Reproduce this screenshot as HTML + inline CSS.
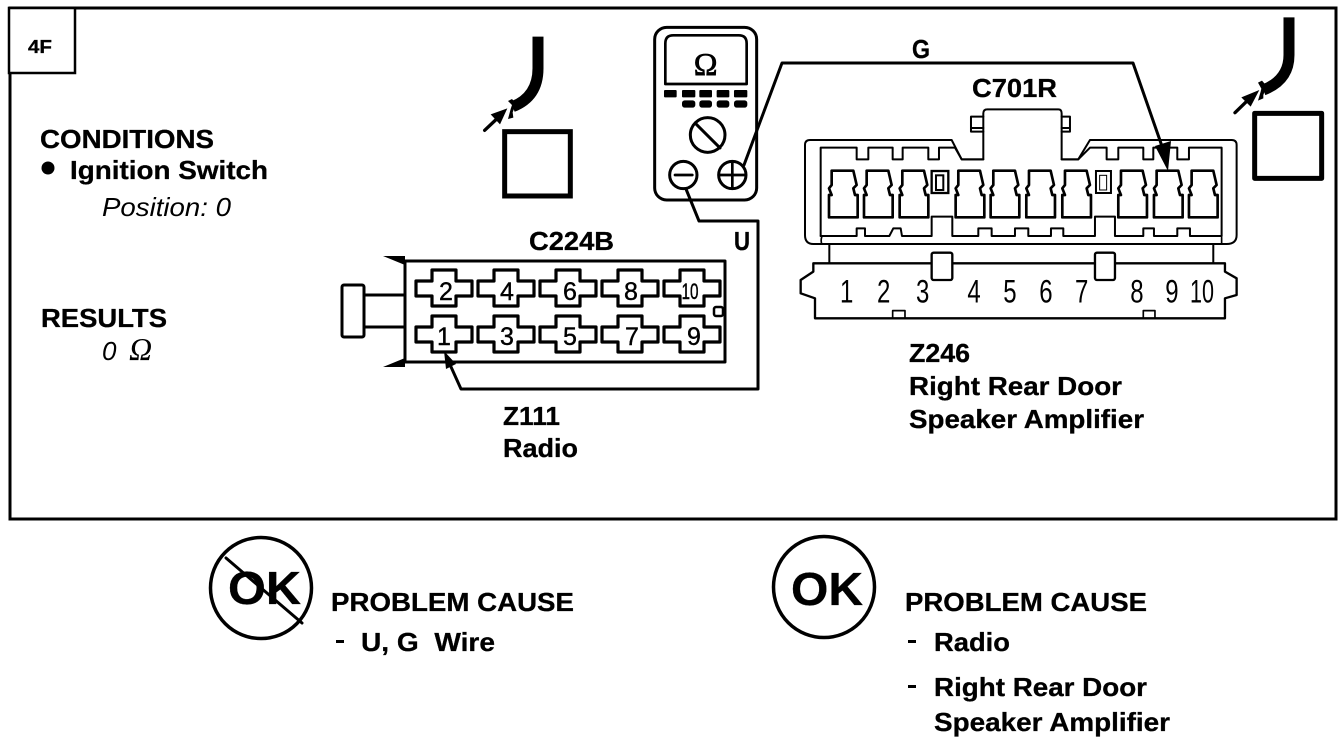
<!DOCTYPE html>
<html><head><meta charset="utf-8"><style>
html,body{margin:0;padding:0;background:#fff;width:1344px;height:742px;overflow:hidden}
svg{display:block}
.b{font-family:"Liberation Sans",sans-serif;font-weight:bold;font-size:26px;fill:#000;stroke:#000;stroke-width:.3}
.i{font-family:"Liberation Sans",sans-serif;font-style:italic;font-size:26px;fill:#000}
.n{font-family:"Liberation Sans",sans-serif;font-size:25px;fill:#000;stroke:#000;stroke-width:.4}
.m{font-family:"Liberation Sans",sans-serif;font-size:98px;fill:#000}
.l{fill:none;stroke:#000;stroke-linejoin:round;stroke-linecap:round}
</style></head><body>
<svg xmlns="http://www.w3.org/2000/svg" xmlns:xlink="http://www.w3.org/1999/xlink" width="1344" height="742" viewBox="0 0 1344 742">
<defs>
<path id="t" d="M-35 212H30L40 255L30 265L35 285H43V352H-43V285H-35L-43 265L-35 255Z" fill="#fff" stroke="#000" stroke-width="8" stroke-linejoin="round"/>
<path id="c" d="M-12 -18H12V-7H28V8H12V18H-12V8H-28V-7H-12Z" fill="#fff" stroke="#000" stroke-width="3.2" stroke-linejoin="round"/>
</defs>
<rect x="10" y="8" width="1326" height="511" fill="#fff" stroke="#000" stroke-width="3"/>
<rect x="9" y="8" width="66" height="65" fill="#fff" stroke="#000" stroke-width="2.5"/>
<text x="28" y="53" class="b" style="font-size:18px" textLength="24" lengthAdjust="spacingAndGlyphs">4F</text>

<text x="40" y="148" class="b" textLength="174" lengthAdjust="spacingAndGlyphs">CONDITIONS</text>
<circle cx="48" cy="168" r="6.5"/>
<text x="70" y="179" class="b" textLength="198" lengthAdjust="spacingAndGlyphs">Ignition Switch</text>
<text x="102" y="216" class="i" textLength="129" lengthAdjust="spacingAndGlyphs">Position: 0</text>
<text x="41" y="327" class="b" textLength="126" lengthAdjust="spacingAndGlyphs">RESULTS</text>
<text x="102" y="360" class="i">0</text>
<text x="129" y="360" style="font-family:'Liberation Serif',serif;font-style:italic;font-size:32px">Ω</text>

<!-- left sensor -->
<g transform="translate(470 25) scale(.3333)">
<rect x="104" y="320" width="197" height="193" fill="none" stroke="#000" stroke-width="15"/>
<path class="l" d="M204 35V130Q204 215 128 245" stroke-width="33" style="stroke-linecap:butt"/>
<path d="M114 228L126 222L138 235L128 262L130 278L114 282L122 252L126 240Z"/>
<path class="l" d="M44 316L80 282" stroke-width="10"/>
<path d="M112 250L90 298L62 268Z"/>
</g>
<!-- right sensor -->
<g transform="translate(1220 10) scale(.3333)">
<rect x="104" y="310" width="201" height="195" fill="none" stroke="#000" stroke-width="15" stroke-linejoin="round"/>
<path class="l" d="M207 22V135Q207 210 130 240" stroke-width="33" style="stroke-linecap:butt"/>
<path d="M114 218L126 212L140 228L130 255L130 265L114 272L122 245L124 236Z"/>
<path class="l" d="M45 308L82 272" stroke-width="10"/>
<path d="M118 240L92 290L64 262Z"/>
</g>

<!-- meter -->
<g transform="translate(640 20) scale(.3333)">
<rect x="44" y="22" width="306" height="518" rx="36" fill="#fff" stroke="#000" stroke-width="9"/>
<path d="M76 192V70Q76 46 100 46H296Q320 46 320 70V192Z" fill="#fff" stroke="#000" stroke-width="8" stroke-linejoin="round"/>
<g fill="#000">
<rect x="72" y="210" width="38" height="22" rx="3"/><rect x="126" y="210" width="40" height="22" rx="3"/><rect x="178" y="210" width="38" height="22" rx="3"/><rect x="230" y="210" width="38" height="22" rx="3"/><rect x="282" y="210" width="40" height="22" rx="3"/>
<rect x="126" y="241" width="40" height="22" rx="8"/><rect x="178" y="241" width="38" height="22" rx="8"/><rect x="230" y="241" width="38" height="22" rx="8"/><rect x="282" y="241" width="40" height="22" rx="8"/>
</g>
<text x="197" y="165" text-anchor="middle" style="font-family:'Liberation Serif',serif;font-size:96px;stroke:#000;stroke-width:2">Ω</text>
<circle cx="203" cy="345" r="52" fill="#fff" stroke="#000" stroke-width="9"/>
<path class="l" d="M168 312L240 384" stroke-width="9"/>
<circle cx="130" cy="465" r="41" fill="#fff" stroke="#000" stroke-width="9"/>
<path class="l" d="M105 465H157" stroke-width="8"/>
<circle cx="277" cy="465" r="41" fill="#fff" stroke="#000" stroke-width="9"/>
<path class="l" d="M237 465H317M277 425V505" stroke-width="8"/>
</g>

<text x="912" y="58" class="b" textLength="18" lengthAdjust="spacingAndGlyphs">G</text>
<text x="734" y="250" class="b" textLength="16" lengthAdjust="spacingAndGlyphs">U</text>

<!-- C224B connector -->
<path class="l" d="M405 261H725V362H405Z" stroke-width="3"/>
<path d="M383 256H405V265Z" fill="#000"/><path d="M383 367L405 358V367Z" fill="#000"/>
<rect x="342" y="285" width="22" height="52" rx="2" fill="#fff" stroke="#000" stroke-width="3"/>
<path class="l" d="M364 295H405M364 327H405" stroke-width="3"/>
<rect x="714" y="307" width="9" height="9" rx="2" fill="#fff" stroke="#000" stroke-width="2.5"/>
<use xlink:href="#c" x="444" y="288"/><use xlink:href="#c" x="506" y="288"/><use xlink:href="#c" x="568" y="288"/><use xlink:href="#c" x="630" y="288"/><use xlink:href="#c" x="692" y="288"/>
<use xlink:href="#c" x="444" y="334"/><use xlink:href="#c" x="506" y="334"/><use xlink:href="#c" x="568" y="334"/><use xlink:href="#c" x="630" y="334"/><use xlink:href="#c" x="692" y="334"/>
<g class="n" text-anchor="middle">
<text x="446" y="300">2</text><text x="507" y="300">4</text><text x="570" y="300">6</text><text x="631" y="300">8</text>
<text x="690" y="299" style="font-size:22px" textLength="17" lengthAdjust="spacingAndGlyphs">10</text>
<text x="444" y="345">1</text><text x="507" y="345">3</text><text x="570" y="345">5</text><text x="632" y="345">7</text><text x="694" y="345">9</text>
</g>
<text x="529" y="250" class="b" textLength="85" lengthAdjust="spacingAndGlyphs">C224B</text>
<text x="503" y="425" class="b" textLength="57" lengthAdjust="spacingAndGlyphs">Z111</text>
<text x="503" y="457" class="b" textLength="75" lengthAdjust="spacingAndGlyphs">Radio</text>

<!-- C701R connector -->
<g transform="translate(790 100) scale(.3333)">
<path class="l" stroke-width="6" d="M70 432Q45 432 45 405V135Q45 120 60 120H485L515 178H580V40Q580 28 592 28H805Q815 28 815 40V178H865L900 120H1325Q1340 120 1340 135V405Q1340 432 1310 432H70Z" style="fill:#fff"/>
<path class="l" stroke-width="6" d="M543 50H580M543 50V95H580M543 84H580M815 50H840V95H815M815 84H840"/>
<path class="l" stroke-width="6" d="M92 408V143H200V178H235V143H308V178H338V143H415V178H447V143H495L515 178H580M815 178H865L900 143H950V178H985V143H1060V178H1090V143H1162V178H1197V143H1295V408"/>
<path class="l" stroke-width="6" d="M92 408H200V385H225V408H298L310 385H332L336 408H425V350H487V408H565V385H605V408H675V385H715V408H783V385H820V408H915V350H975V408H1060V385H1092V408H1162V385H1200V408H1295"/>
<path class="l" stroke-width="5" d="M95 432Q92 420 95 412M1295 412V432"/>
<use xlink:href="#t" x="160"/><use xlink:href="#t" x="265"/><use xlink:href="#t" x="372"/>
<use xlink:href="#t" x="540"/><use xlink:href="#t" x="645"/><use xlink:href="#t" x="752"/><use xlink:href="#t" x="860"/>
<use xlink:href="#t" x="1028"/><use xlink:href="#t" x="1135"/><use xlink:href="#t" x="1240"/>
<rect x="425" y="213" width="50" height="66" fill="#fff" stroke="#000" stroke-width="7"/>
<rect x="438" y="226" width="22" height="44" fill="#fff" stroke="#000" stroke-width="6"/>
<rect x="918" y="213" width="45" height="66" fill="#fff" stroke="#000" stroke-width="6"/>
<rect x="929" y="226" width="21" height="44" fill="#fff" stroke="#000" stroke-width="3"/>
<path class="l" stroke-width="6" d="M118 435V490M1270 435V490"/>
<path class="l" stroke-width="7" d="M425 490H70V515L32 540V580L75 595V655H1305V595L1340 585V535L1305 515V490H975M487 490H915"/>
<rect x="425" y="458" width="62" height="82" rx="6" fill="#fff" stroke="#000" stroke-width="7"/>
<rect x="915" y="458" width="60" height="82" rx="6" fill="#fff" stroke="#000" stroke-width="7"/>
<path class="l" stroke-width="5" d="M308 655V632H345V655M1060 655V632H1095V655"/>
<g class="m">
<text x="150" y="607" textLength="40" lengthAdjust="spacingAndGlyphs">1</text>
<text x="261" y="607" textLength="40" lengthAdjust="spacingAndGlyphs">2</text>
<text x="378" y="607" textLength="40" lengthAdjust="spacingAndGlyphs">3</text>
<text x="532" y="607" textLength="40" lengthAdjust="spacingAndGlyphs">4</text>
<text x="640" y="607" textLength="40" lengthAdjust="spacingAndGlyphs">5</text>
<text x="748" y="607" textLength="40" lengthAdjust="spacingAndGlyphs">6</text>
<text x="855" y="607" textLength="40" lengthAdjust="spacingAndGlyphs">7</text>
<text x="1021" y="607" textLength="40" lengthAdjust="spacingAndGlyphs">8</text>
<text x="1126" y="607" textLength="40" lengthAdjust="spacingAndGlyphs">9</text>
<text x="1200" y="607" textLength="72" lengthAdjust="spacingAndGlyphs">10</text>
</g>
</g>
<text x="972" y="97" class="b" textLength="85" lengthAdjust="spacingAndGlyphs">C701R</text>
<text x="909" y="362" class="b" textLength="61" lengthAdjust="spacingAndGlyphs">Z246</text>
<text x="909" y="395" class="b" textLength="213" lengthAdjust="spacingAndGlyphs">Right Rear Door</text>
<text x="909" y="428" class="b" textLength="235" lengthAdjust="spacingAndGlyphs">Speaker Amplifier</text>

<!-- wires (above connectors) -->
<path class="l" d="M744 165L782 63H1133L1164 152" stroke-width="3"/>
<path d="M1168 171L1155 146L1171 141Z"/>
<path class="l" d="M686 189L699 221H758V389H461L447 358" stroke-width="3"/>
<path d="M444 351L456 364L446 369Z"/>

<!-- OK left -->
<circle cx="261" cy="588" r="50.5" fill="none" stroke="#000" stroke-width="3.5"/>
<text x="228" y="604" class="b" style="font-size:46px" textLength="73" lengthAdjust="spacingAndGlyphs">OK</text>
<path class="l" d="M226 558L302 623" stroke-width="3"/>
<text x="331" y="611" class="b" textLength="243" lengthAdjust="spacingAndGlyphs">PROBLEM CAUSE</text>
<rect x="336" y="640" width="8" height="3"/>
<text x="361" y="651" class="b" textLength="134" lengthAdjust="spacingAndGlyphs" xml:space="preserve">U, G  Wire</text>

<!-- OK right -->
<circle cx="824" cy="587" r="50.5" fill="none" stroke="#000" stroke-width="3.5"/>
<text x="791" y="605" class="b" style="font-size:46px" textLength="72" lengthAdjust="spacingAndGlyphs">OK</text>
<text x="905" y="611" class="b" textLength="242" lengthAdjust="spacingAndGlyphs">PROBLEM CAUSE</text>
<rect x="908" y="640" width="8" height="3"/>
<text x="934" y="651" class="b" textLength="76" lengthAdjust="spacingAndGlyphs">Radio</text>
<rect x="908" y="685" width="8" height="3"/>
<text x="934" y="696" class="b" textLength="213" lengthAdjust="spacingAndGlyphs">Right Rear Door</text>
<text x="934" y="731" class="b" textLength="236" lengthAdjust="spacingAndGlyphs">Speaker Amplifier</text>
</svg>
</body></html>
